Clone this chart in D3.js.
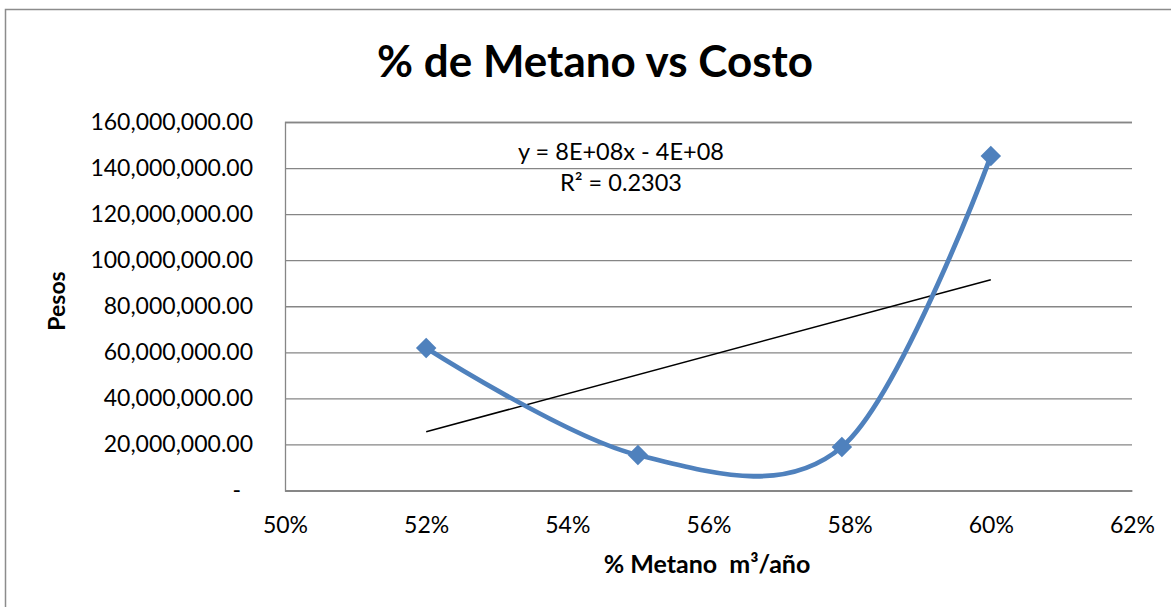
<!DOCTYPE html>
<html><head><meta charset="utf-8">
<script src="https://cdn.jsdelivr.net/npm/d3@7"></script>
<style>body{margin:0;background:#fff}svg{display:block;font-family:Lato,'Open Sans',sans-serif}</style>
</head><body><svg id="c" width="1171" height="607"></svg>
<script>
const methanePct = [0.52, 0.55, 0.5789, 0.60];
const costPesos = [61900000, 15400000, 18900000, 145200000];
const xTickValues = [0.50, 0.52, 0.54, 0.56, 0.58, 0.60, 0.62];
const yTickValues = [0, 20e6, 40e6, 60e6, 80e6, 100e6, 120e6, 140e6, 160e6];
const chartTitle = "% de Metano vs Costo";
const xAxisTitle = "% Metano  m³/año";
const yAxisTitle = "Pesos";
const trendLabels = ["y = 8E+08x - 4E+08", "R² = 0.2303"];

const FONT = "Lato, 'Open Sans', sans-serif";
const svg = d3.select("#c");
const m = {left: 285, right: 1132, top: 122, bottom: 490.5};
const x = d3.scaleLinear().domain([0.50, 0.62]).range([m.left, m.right]);
const y = d3.scaleLinear().domain([0, 160e6]).range([m.bottom, m.top]);

// outer chart border
svg.append("rect").attr("x", 5.5).attr("y", 9.5).attr("width", 1300).attr("height", 800)
  .attr("fill", "none").attr("stroke", "#8c8c8c").attr("stroke-width", 1.5);

// gridlines + y axis
const yAxis = d3.axisLeft(y).tickValues(yTickValues).tickSize(-(m.right - m.left)).tickPadding(32)
  .tickFormat(d => d === 0 ? "-" : d3.format(",.2f")(d));
const gy = svg.append("g").attr("transform", `translate(${m.left},0)`).call(yAxis)
  .attr("font-family", FONT);
gy.select(".domain").attr("stroke", "#868686").attr("stroke-width", 1.3);
gy.selectAll(".tick line").attr("stroke", "#868686").attr("stroke-width", 1.3);
gy.selectAll(".tick text").attr("font-size", 23).attr("fill", "#000");
gy.selectAll(".tick").filter(d => d === 0).select("text").attr("x", -44);

const xAxis = d3.axisBottom(x).tickValues(xTickValues).tickSize(0).tickPadding(26)
  .tickFormat(d3.format(".0%"));
const gx = svg.append("g").attr("transform", `translate(0,${m.bottom})`).call(xAxis)
  .attr("font-family", FONT);
gx.select(".domain").attr("stroke", "#868686").attr("stroke-width", 1.3);
gx.selectAll(".tick text").attr("font-size", 23).attr("fill", "#000");

// trendline (least squares of the data)
const n = methanePct.length;
const mx = d3.mean(methanePct), my = d3.mean(costPesos);
let sxy = 0, sxx = 0;
for (let i = 0; i < n; i++) { sxy += (methanePct[i]-mx)*(costPesos[i]-my); sxx += (methanePct[i]-mx)**2; }
const slope = sxy / sxx, icpt = my - slope * mx;
const x0 = d3.min(methanePct), x1 = d3.max(methanePct);
svg.append("line").attr("x1", x(x0)).attr("y1", y(icpt + slope*x0))
  .attr("x2", x(x1)).attr("y2", y(icpt + slope*x1))
  .attr("stroke", "#000").attr("stroke-width", 1.5);

// series
const pts = methanePct.map((v, i) => [v, costPesos[i]]);
const line = d3.line().x(d => x(d[0])).y(d => y(d[1])).curve(d3.curveCardinal.tension(0));
svg.append("path").attr("d", line(pts)).attr("fill", "none").attr("stroke", "#4F81BD")
  .attr("stroke-width", 4.8).attr("stroke-linejoin", "round");
const sym = d3.symbol().type(d3.symbolSquare).size(210);
svg.selectAll(".mk").data(pts).join("path").attr("class", "mk")
  .attr("d", sym).attr("fill", "#4F81BD")
  .attr("transform", d => `translate(${x(d[0])},${y(d[1])}) rotate(45)`);

// labels
svg.append("text").attr("x", 595).attr("y", 77).attr("text-anchor", "middle")
  .attr("font-size", 44).attr("font-weight", "bold").text(chartTitle);
svg.append("text").attr("x", 707).attr("y", 573).attr("text-anchor", "middle")
  .attr("font-size", 25).attr("font-weight", "bold").style("white-space", "pre").text(xAxisTitle);
svg.append("text").attr("transform", "translate(65,301) rotate(-90)").attr("text-anchor", "middle")
  .attr("font-size", 23).attr("font-weight", "bold").text(yAxisTitle);
svg.append("text").attr("x", 621).attr("y", 160).attr("text-anchor", "middle")
  .attr("font-size", 23.5).text(trendLabels[0]);
svg.append("text").attr("x", 621).attr("y", 191).attr("text-anchor", "middle")
  .attr("font-size", 23.5).text(trendLabels[1]);
</script></body></html>
